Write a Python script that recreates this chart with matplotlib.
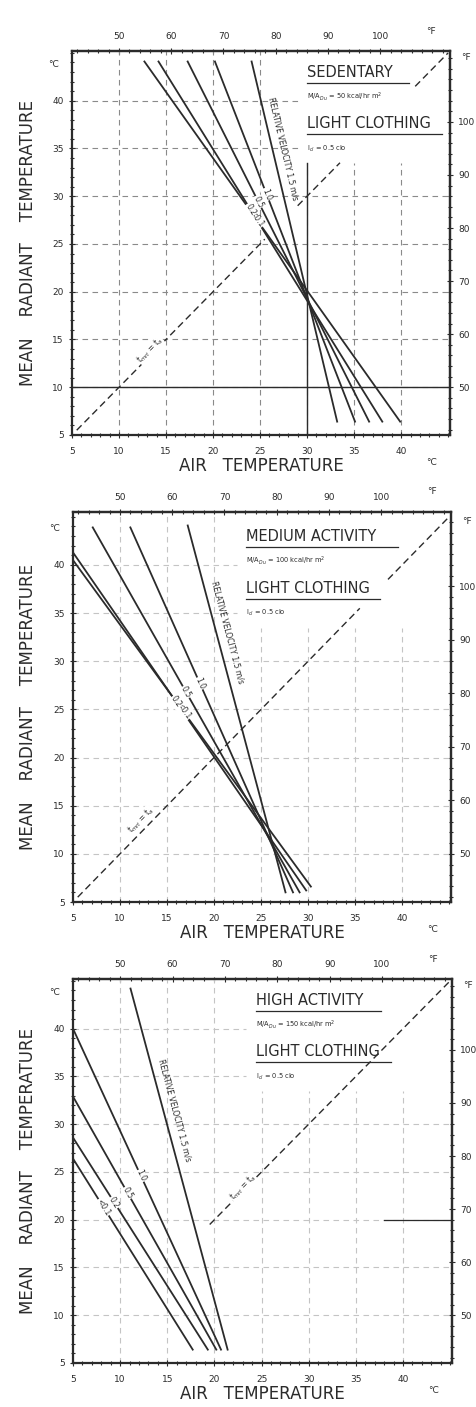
import matplotlib.pyplot as plt
import numpy as np
from matplotlib.ticker import MultipleLocator

# --- data (deg C) -----------------------------------------------------------
VEL_LABELS = ["<0.1", "0.2", "0.5", "1.0", "RELATIVE VELOCITY 1.5 m/s"]

# sedentary, M/A_Du = 50 kcal/hr m2
SED_TOP_TA = [12.7, 14.2, 17.3, 20.2, 24.1]
SED_TOP_TMRT = [44.1, 44.1, 44.1, 44.1, 44.1]
SED_BOT_TA = [39.9, 38.0, 36.6, 35.1, 33.2]
SED_BOT_TMRT = [6.4, 6.4, 6.4, 6.4, 6.4]
SED_LABEL_TMRT = [27.6, 28.6, 29.4, 30.2, 35.0]
SED_DIAG = [(5.5, 25.5), (29.0, 33.5), (41.5, 45.0)]

# medium activity, M/A_Du = 100 kcal/hr m2
MED_TOP_TA = [5.0, 5.0, 7.1, 11.1, 17.2]
MED_TOP_TMRT = [40.5, 41.3, 43.9, 43.9, 44.1]
MED_BOT_TA = [30.3, 29.8, 29.1, 28.4, 27.6]
MED_BOT_TMRT = [6.6, 6.2, 6.0, 6.0, 6.0]
MED_LABEL_TMRT = [24.8, 25.8, 26.8, 27.7, 33.0]
MED_DIAG = [(5.5, 35.5), (38.5, 45.0)]

# high activity, M/A_Du = 150 kcal/hr m2
HIGH_TOP_TA = [5.0, 5.0, 5.0, 5.0, 11.1]
HIGH_TOP_TMRT = [26.4, 28.6, 32.9, 40.0, 44.2]
HIGH_BOT_TA = [17.7, 19.3, 20.2, 20.7, 21.4]
HIGH_BOT_TMRT = [6.4, 6.4, 6.4, 6.4, 6.4]
HIGH_LABEL_TMRT = [21.3, 21.8, 22.8, 24.6, 31.5]
HIGH_DIAG = [(19.5, 45.0)]

PANELS = [
    dict(title="SEDENTARY", met="50", top_ta=SED_TOP_TA, top_tmrt=SED_TOP_TMRT,
         bot_ta=SED_BOT_TA, bot_tmrt=SED_BOT_TMRT, lab=SED_LABEL_TMRT,
         diag=SED_DIAG, diag_lab=(13.3, 13.9), tx=30.0, ul=10.8, grid="#8a8a8a"),
    dict(title="MEDIUM ACTIVITY", met="100", top_ta=MED_TOP_TA, top_tmrt=MED_TOP_TMRT,
         bot_ta=MED_BOT_TA, bot_tmrt=MED_BOT_TMRT, lab=MED_LABEL_TMRT,
         diag=MED_DIAG, diag_lab=(12.2, 13.5), tx=23.4, ul=16.2, grid="#c4c4c4"),
    dict(title="HIGH ACTIVITY", met="150", top_ta=HIGH_TOP_TA, top_tmrt=HIGH_TOP_TMRT,
         bot_ta=HIGH_BOT_TA, bot_tmrt=HIGH_BOT_TMRT, lab=HIGH_LABEL_TMRT,
         diag=HIGH_DIAG, diag_lab=(23.0, 23.4), tx=24.4, ul=13.3, grid="#c4c4c4"),
]

C_TICKS = [5, 10, 15, 20, 25, 30, 35, 40]
F_TICKS = [50, 60, 70, 80, 90, 100]
GRID = [10, 15, 20, 25, 30, 35, 40]

INK = "#2b2b2b"

# axes boxes in pixels: (left, top, right, bottom), ylim top
BOXES = [(72, 51, 450, 435, 45.2), (73, 512, 451, 902, 45.5), (73, 979, 452, 1363, 45.2)]
W, H = 476, 1407


def c2f(c):
    return np.asarray(c) * 1.8 + 32


def f2c(f):
    return (np.asarray(f) - 32) / 1.8


fig = plt.figure(figsize=(W / 100, H / 100), dpi=100)

for k, (p, (l, t, r, b, ytop)) in enumerate(zip(PANELS, BOXES)):
    ax = fig.add_axes([l / W, 1 - b / H, (r - l) / W, (b - t) / H])
    ax.set_xlim(5, 45.2)
    ax.set_ylim(5, ytop)
    tx = p["tx"]

    # dashed 5-degree grid, kept clear of the legend block
    for g in GRID:
        ytop_g = 33.5 if g >= tx else ytop
        ax.plot([g, g], [5, ytop_g], color=p["grid"], lw=0.8, dashes=(5, 4), zorder=1)
        xr = tx - 1.0 if g >= 34 else 45.2
        ax.plot([5, xr], [g, g], color=p["grid"], lw=0.8, dashes=(5, 4), zorder=1)
    if k == 0:
        ax.plot([5, 45.2], [10, 10], color=INK, lw=1.0, zorder=1)
        ax.plot([30, 30], [5, 33.5], color=INK, lw=1.0, zorder=1)
    if k == 2:
        ax.plot([38, 45.2], [20, 20], color=INK, lw=0.9, zorder=1)

    # t_mrt = t_a reference
    for a, z in p["diag"]:
        ax.plot([a, z], [a, z], color=INK, lw=1.0, dashes=(5, 3), zorder=2)
    ax.text(*p["diag_lab"], "t$_{mrt}$ = t$_a$", fontsize=5.5, rotation=45,
            transform_rotates_text=True, ha="center", va="center", color=INK,
            bbox=dict(fc="white", ec="none", pad=0.3), zorder=4)

    # comfort lines per relative velocity
    for i, lab in enumerate(VEL_LABELS):
        x0, y0 = p["top_ta"][i], p["top_tmrt"][i]
        x1, y1 = p["bot_ta"][i], p["bot_tmrt"][i]
        ax.plot([x0, x1], [y0, y1], color=INK, lw=1.3, zorder=3)
        ang = np.degrees(np.arctan2(y1 - y0, x1 - x0))
        ym = p["lab"][i]
        xm = x0 + (ym - y0) / (y1 - y0) * (x1 - x0)
        if i == len(VEL_LABELS) - 1:
            ax.text(xm + 1.2, ym, lab, fontsize=5.5, rotation=ang,
                    transform_rotates_text=True, ha="center", va="center",
                    color=INK, zorder=4)
        else:
            ax.text(xm, ym, lab, fontsize=5.5, rotation=ang,
                    transform_rotates_text=True, ha="center", va="center",
                    color=INK, bbox=dict(fc="white", ec="none", pad=0.4), zorder=4)

    # legend block
    ax.text(tx, 43.0, p["title"], fontsize=10.5, color=INK, va="center")
    ax.plot([tx, tx + p["ul"]], [41.9, 41.9], color=INK, lw=0.9)
    ax.text(tx, 40.4, "M/A$_{Du}$ = " + p["met"] + " kcal/hr m$^2$", fontsize=4.8,
            color=INK, va="center")
    ax.text(tx, 37.6, "LIGHT CLOTHING", fontsize=10.5, color=INK, va="center")
    ax.plot([tx, tx + 14.3], [36.5, 36.5], color=INK, lw=0.9)
    ax.text(tx, 35.0, "I$_{cl}$ = 0.5 clo", fontsize=4.8, color=INK, va="center")

    # celsius axes
    ax.set_xticks(C_TICKS)
    ax.set_yticks(C_TICKS)
    ax.xaxis.set_minor_locator(MultipleLocator(1))
    ax.yaxis.set_minor_locator(MultipleLocator(1))
    ax.tick_params(which="both", direction="inout", color=INK, labelsize=6.5,
                   labelcolor=INK, width=0.8)
    ax.tick_params(which="major", length=5)
    ax.tick_params(which="minor", length=3)
    ax.tick_params(axis="x", pad=6)
    for s in ax.spines.values():
        s.set_color(INK)
        s.set_linewidth(1.6)
    ax.text(43.2, -0.06, "°C", transform=ax.get_xaxis_transform(), fontsize=6.5,
            ha="center", va="top", color=INK)
    ax.text(-0.035, 43.8, "°C", transform=ax.get_yaxis_transform(), fontsize=6.5,
            ha="right", va="center", color=INK)

    # fahrenheit axes
    top = ax.secondary_xaxis("top", functions=(c2f, f2c))
    top.set_xticks(F_TICKS)
    top.xaxis.set_minor_locator(MultipleLocator(2))
    right = ax.secondary_yaxis("right", functions=(c2f, f2c))
    right.set_yticks(F_TICKS)
    right.yaxis.set_minor_locator(MultipleLocator(2))
    for sec in (top, right):
        sec.tick_params(which="both", direction="inout", color=INK, labelsize=6.5,
                        labelcolor=INK, width=0.8)
        sec.tick_params(which="major", length=5)
        sec.tick_params(which="minor", length=2.5)
        for s in sec.spines.values():
            s.set_color(INK)
            s.set_linewidth(1.6)
    top.tick_params(axis="x", pad=5)
    ax.text(43.2, 1.04, "°F", transform=ax.get_xaxis_transform(), fontsize=6.5,
            ha="center", va="bottom", color=INK)
    ax.text(1.03, 44.5, "°F", transform=ax.get_yaxis_transform(), fontsize=6.5,
            ha="left", va="center", color=INK)

    # axis titles
    ax.set_xlabel("AIR   TEMPERATURE", fontsize=12, color=INK, labelpad=1)
    fig.text(28 / W, 1 - (t + b) / 2 / H, "MEAN    RADIANT    TEMPERATURE",
             rotation=90, fontsize=12, color=INK, ha="center", va="center")

fig.savefig("out.png", dpi=100)
